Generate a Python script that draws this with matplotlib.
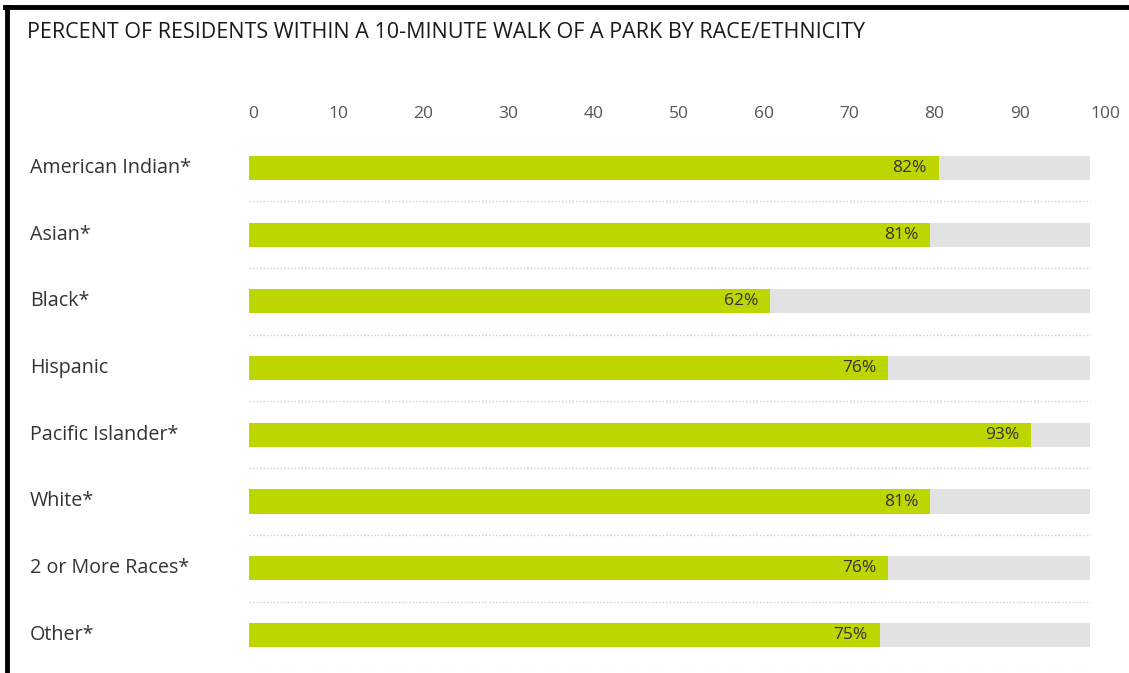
import matplotlib.pyplot as plt
from matplotlib.lines import Line2D
import numpy as np

# Percent of residents within a 10-minute walk of a park
groups = ['American Indian*', 'Asian*', 'Black*', 'Hispanic', 'Pacific Islander*',
          'White*', '2 or More Races*', 'Other*']
percent = [82, 81, 62, 76, 93, 81, 76, 75]
tick_values = [0, 10, 20, 30, 40, 50, 60, 70, 80, 90, 100]

bar_green = '#BDD600'
track_grey = '#E2E2E2'

plt.rcParams['font.family'] = ['Open Sans', 'DejaVu Sans']

fig = plt.figure(figsize=(11.29, 6.73), dpi=100)
W, H = 1129, 673

# axes placed in pixel terms: 0% at x=249, 8.41 px per percent, rows 66.7 px apart
x0, px_per = 249, 8.41
xmax = 102.5
row_h = 66.7
top_c = 168
ax = fig.add_axes([x0 / W, 1 - (top_c + 7.5 * row_h) / H,
                   xmax * px_per / W, 8 * row_h / H])

y = np.arange(len(groups))
ax.barh(y, [100] * len(groups), height=0.36, color=track_grey, zorder=1)
ax.barh(y, percent, height=0.36, color=bar_green, zorder=2)

for yi, v in zip(y, percent):
    ax.text(v - 1.4, yi, f'{v}%', ha='right', va='center', fontsize=12.5,
            color='#333333', zorder=3)

# dotted separators under every row
for yi in y:
    ax.plot([0, 100], [yi + 0.5, yi + 0.5], color='#cfcfcf', lw=1,
            linestyle=(0, (1, 1.5)), zorder=0)

ax.set_xlim(0, xmax)
ax.set_ylim(len(groups) - 0.5, -0.5)
for s in ax.spines.values():
    s.set_visible(False)
ax.set_yticks([])
ax.set_xticks([])

# category labels at the left edge of the figure
label_tf = ax.get_yaxis_transform().__class__(fig.transFigure, ax.transData)
for yi, g in zip(y, groups):
    ax.text(30 / W, yi, g, transform=label_tf,
            ha='left', va='center', fontsize=14.2, color='#333333')

# tick labels sit on a slightly wider scale than the bars
def fwd(x):
    return (x * px_per - 4) / 8.52

def inv(s):
    return (s * 8.52 + 4) / px_per

sec = ax.secondary_xaxis('top', functions=(fwd, inv))
sec.set_xticks(tick_values)
sec.set_xticklabels([str(t) for t in tick_values])
sec.tick_params(length=0, pad=9, labelsize=12.5, labelcolor='#555555')
sec.spines['top'].set_visible(False)

fig.text(27 / W, 1 - 32 / H, 'PERCENT OF RESIDENTS WITHIN A 10-MINUTE WALK OF A PARK BY RACE/ETHNICITY',
         ha='left', va='center', fontsize=15.5, color='#1a1a1a')

# screenshot frame on the left and top
fig.add_artist(Line2D([7 / W, 7 / W], [0, 1 - 7 / H], transform=fig.transFigure,
                      color='black', lw=3.5))
fig.add_artist(Line2D([5 / W, 1], [1 - 7 / H, 1 - 7 / H], transform=fig.transFigure,
                      color='black', lw=3.5))

fig.savefig('out.png', dpi=100)
plt.close(fig)
